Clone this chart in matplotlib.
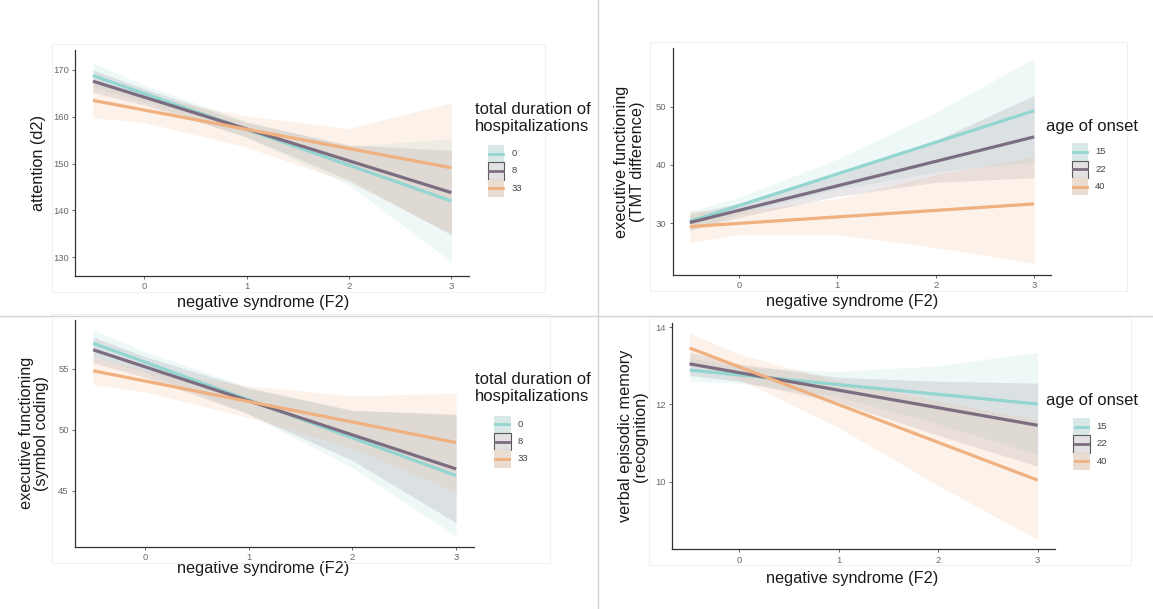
import matplotlib.pyplot as plt
from matplotlib.patches import Rectangle
from matplotlib.lines import Line2D

W, H = 1153, 609
plt.rcParams['font.family'] = ['Liberation Sans', 'DejaVu Sans']

# x positions used for the fitted lines and the confidence bands
line_x = [-0.5, 3]
band_x = [-0.5, 0, 1, 2, 3]
x_ticks = [0, 1, 2, 3]
x_label = 'negative syndrome (F2)'

# --- attention (d2), by total duration of hospitalizations
att_levels = ['0', '8', '33']
att_fit = {'0': [168.8, 142.0], '8': [167.6, 143.8], '33': [163.5, 149.1]}
att_lo = {'0': [166.3, 163.2, 155.6, 145.5, 129.0],
          '8': [165.2, 162.5, 155.7, 146.5, 134.8],
          '33': [159.8, 158.8, 153.5, 146.0, 135.0]}
att_hi = {'0': [171.5, 166.8, 159.0, 153.7, 155.3],
          '8': [170.0, 166.0, 158.8, 154.0, 152.8],
          '33': [167.2, 164.5, 160.2, 157.5, 163.0]}

# --- executive functioning (TMT difference), by age of onset
tmt_levels = ['15', '22', '40']
tmt_fit = {'15': [30.3, 49.3], '22': [30.1, 44.8], '40': [29.4, 33.3]}
tmt_lo = {'15': [28.6, 31.6, 35.8, 38.8, 40.5],
          '22': [28.8, 31.0, 34.6, 37.0, 37.8],
          '40': [26.7, 28.0, 28.0, 25.8, 23.1]}
tmt_hi = {'15': [32.0, 34.4, 41.0, 49.0, 58.3],
          '22': [31.6, 33.4, 38.2, 44.2, 51.9],
          '40': [32.1, 32.0, 34.2, 38.3, 41.4]}

# --- executive functioning (symbol coding), by total duration of hospitalizations
sym_levels = ['0', '8', '33']
sym_fit = {'0': [57.1, 46.25], '8': [56.56, 46.8], '33': [54.84, 48.96]}
sym_lo = {'0': [56.0, 54.7, 51.3, 46.9, 41.3],
          '8': [55.5, 54.3, 51.3, 47.5, 42.4],
          '33': [53.7, 53.1, 51.0, 48.5, 44.9]}
sym_hi = {'0': [58.2, 56.4, 53.5, 51.6, 51.2],
          '8': [57.6, 56.0, 53.4, 51.6, 51.3],
          '33': [56.0, 54.9, 53.6, 52.8, 53.0]}

# --- verbal episodic memory (recognition), by age of onset
rec_levels = ['15', '22', '40']
rec_fit = {'15': [12.89, 12.01], '22': [13.05, 11.46], '40': [13.46, 10.04]}
rec_lo = {'15': [12.6, 12.55, 12.2, 11.5, 10.7],
          '22': [12.75, 12.6, 12.05, 11.2, 10.4],
          '40': [13.05, 12.65, 11.4, 9.9, 8.5]}
rec_hi = {'15': [13.2, 12.97, 12.85, 13.0, 13.35],
          '22': [13.35, 13.05, 12.7, 12.6, 12.55],
          '40': [13.85, 13.3, 12.6, 12.1, 11.6]}

line_colors = ['#93d5d0', '#7d6d80', '#f0b07f']
key_fills = ['#d8e8e7', '#e4e1e5', '#ebdcd2']


def fx(x):
    return x / W


def fy(y):
    return 1 - y / H


fig = plt.figure(figsize=(W / 100, H / 100), dpi=100)


def panel(box, ylim, yticks, ylabel, ylab_x, levels, fit, lo, hi,
          leg_title, leg_x, leg_ty, key_x, key_top, xlab_xy):
    l, t, r, b = box
    # faint screenshot background frame
    fig.add_artist(Rectangle((fx(l - 23), fy(b + 16)), (r - l + 99) / W, (b - t + 22) / H,
                             transform=fig.transFigure, fill=False,
                             edgecolor='#f1f1f1', lw=0.8))
    ax = fig.add_axes([fx(l), fy(b), (r - l) / W, (b - t) / H])
    for i, lev in enumerate(levels):
        ax.fill_between(band_x, lo[lev], hi[lev], color=line_colors[i],
                        alpha=0.16, lw=0)
    for i, lev in enumerate(levels):
        ax.plot(line_x, fit[lev], color=line_colors[i], lw=2.3,
                solid_capstyle='butt')
    ax.set_xlim(-0.675, 3.175)
    ax.set_ylim(*ylim)
    ax.set_xticks(x_ticks)
    ax.set_yticks(yticks)
    for s in ['top', 'right']:
        ax.spines[s].set_visible(False)
    for s in ['left', 'bottom']:
        ax.spines[s].set_color('#333333')
        ax.spines[s].set_linewidth(0.9)
    ax.tick_params(length=2.5, width=0.6, color='#555555', labelsize=6.8,
                   labelcolor='#6a6a6a', pad=2)
    ax.set_facecolor('none')
    ax.set_xlabel(x_label, fontsize=11.7, color='#1a1a1a')
    ax.xaxis.label.set_verticalalignment('center')
    ax.xaxis.set_label_coords((xlab_xy[0] - l) / (r - l), (b - xlab_xy[1]) / (b - t))
    ax.set_ylabel(ylabel, fontsize=11.7, color='#1a1a1a', linespacing=1.05)
    ax.yaxis.label.set_verticalalignment('center')
    ax.yaxis.set_label_coords((ylab_x - l) / (r - l), 0.5)

    # legend
    fig.text(fx(leg_x), fy(leg_ty), leg_title, fontsize=12, color='#1a1a1a',
             va='center', ha='left', linespacing=1.2)
    kw, kh = 16.6, 17.3
    for i, lev in enumerate(levels):
        top = key_top + i * kh
        fig.add_artist(Rectangle((fx(key_x), fy(top + kh)), kw / W, kh / H,
                                 transform=fig.transFigure, facecolor=key_fills[i],
                                 edgecolor='#5a5a5a' if i == 1 else 'none', lw=0.8))
        fig.add_artist(Line2D([fx(key_x + 1.5), fx(key_x + kw - 1.5)],
                              [fy(top + kh / 2)] * 2, transform=fig.transFigure,
                              color=line_colors[i], lw=2.0))
        fig.text(fx(key_x + kw + 7), fy(top + kh / 2), lev, fontsize=6.8,
                 color='#444444', va='center', ha='left')
    return ax


panel((75, 50, 469.3, 276), (125.98, 174.27), [130, 140, 150, 160, 170],
      'attention (d2)', 38.8, att_levels, att_fit, att_lo, att_hi,
      'total duration of\nhospitalizations', 475, 118.3, 487.7, 145, (263, 303))

panel((672.6, 48.3, 1051.4, 275), (21.1, 60.0), [30, 40, 50],
      'executive functioning\n(TMT difference)', 629.5, tmt_levels, tmt_fit, tmt_lo, tmt_hi,
      'age of onset', 1046, 126.7, 1071.7, 143.3, (852, 301.7))

panel((75, 320, 474.3, 546.7), (40.43, 59.0), [45, 50, 55],
      'executive functioning\n(symbol coding)', 34, sym_levels, sym_fit, sym_lo, sym_hi,
      'total duration of\nhospitalizations', 474.7, 388, 493.9, 415.6, (263, 569))

panel((672.2, 323.3, 1055, 549.3), (8.25, 14.1), [10, 12, 14],
      'verbal episodic memory\n(recognition)', 633, rec_levels, rec_fit, rec_lo, rec_hi,
      'age of onset', 1046, 400, 1073, 418, (852, 578.3))

# divider lines between the four screenshots
fig.add_artist(Line2D([fx(598), fx(598)], [0, 1], transform=fig.transFigure,
                      color='#d6d6d6', lw=1.0))
fig.add_artist(Line2D([0, 1], [fy(315.5), fy(315.5)], transform=fig.transFigure,
                      color='#d6d6d6', lw=1.0))

fig.savefig('out.png', dpi=100, facecolor='white')
